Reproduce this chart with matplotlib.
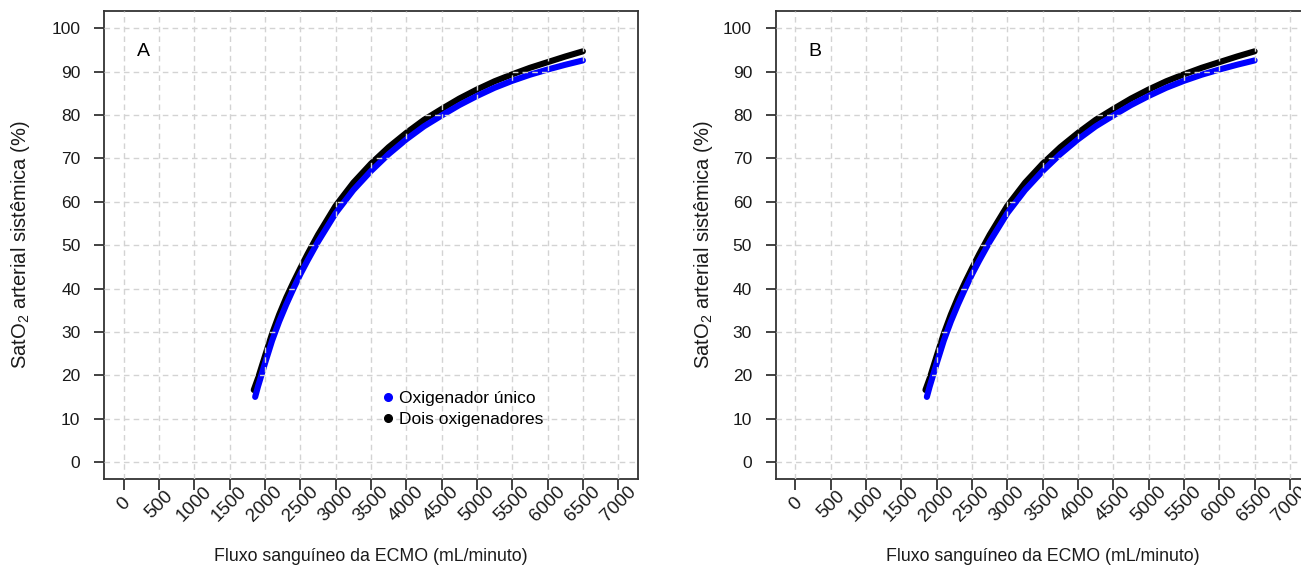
import matplotlib
matplotlib.use("Agg")
import matplotlib.pyplot as plt
from matplotlib.lines import Line2D

# ---------------- data ----------------
flow_single = [1860, 1900, 2000, 2100, 2200, 2300, 2400, 2500, 2600, 2750, 3000, 3250,
               3500, 3750, 4000, 4250, 4500, 4750, 5000, 5250, 5500, 5750, 6000, 6250, 6500]
sat_single = [15.0, 17.4, 22.8, 28.0, 32.4, 36.3, 39.9, 43.3, 46.4, 50.8, 57.4, 62.7,
              67.1, 71.0, 74.4, 77.4, 79.9, 82.3, 84.4, 86.3, 87.9, 89.3, 90.5, 91.6, 92.6]

flow_double = [1840, 1900, 2000, 2100, 2200, 2300, 2400, 2500, 2600, 2750, 3000, 3250,
               3500, 3750, 4000, 4250, 4500, 4750, 5000, 5250, 5500, 5750, 6000, 6250, 6500]
sat_double = [16.6, 19.3, 24.5, 29.6, 34.0, 37.9, 41.4, 44.7, 47.9, 52.4, 59.1, 64.4,
              68.8, 72.6, 75.9, 78.9, 81.4, 83.8, 85.9, 87.8, 89.4, 90.9, 92.2, 93.5, 94.7]

x_ticks = list(range(0, 7001, 500))
y_ticks = list(range(0, 101, 10))
panel_labels = ["A", "B"]
legend_labels = ["Oxigenador único", "Dois oxigenadores"]
x_label = "Fluxo sanguíneo da ECMO (mL/minuto)"
y_label = "SatO$_2$ arterial sistêmica (%)"

# ---------------- style ----------------
plt.rcParams['font.family'] = ['Liberation Sans', 'DejaVu Sans']
plt.rcParams['mathtext.default'] = 'regular'

W, H = 1301, 567
fig = plt.figure(figsize=(W / 100, H / 100), dpi=100)

spine_col = '#333333'
grid_col = '#d3d3d3'
text_col = '#1a1a1a'

def px_axes(left, right, top, bottom):
    return [left / W, (H - bottom) / H, (right - left) / W, (bottom - top) / H]

axes_specs = [px_axes(104, 638, 11, 479.3), px_axes(775.7, 1309.7, 11, 479.3)]
ylabel_x = [-0.157, -0.136]

for i, spec in enumerate(axes_specs):
    ax = fig.add_axes(spec)
    ax.set_xlim(-280, 7280)
    ax.set_ylim(-4, 104)

    ax.plot(flow_double, sat_double, color='black', lw=4.4, solid_capstyle='round',
            solid_joinstyle='round', zorder=2)
    ax.plot(flow_single, sat_single, color='#0000ff', lw=4.4, solid_capstyle='round',
            solid_joinstyle='round', zorder=2.1)

    ax.set_xticks(x_ticks)
    ax.set_yticks(y_ticks)
    ax.set_xticklabels([str(v) for v in x_ticks], rotation=45, ha='center', va='center',
                       fontsize=13.5, color=text_col)
    ax.set_yticklabels([str(v) for v in y_ticks], fontsize=12.5, color=text_col)
    ax.tick_params(axis='x', length=8, width=1.3, color=spine_col, pad=10)
    ax.tick_params(axis='y', length=7, width=1.3, color=spine_col, pad=10)

    ax.set_axisbelow(False)
    ax.grid(True, color=grid_col, linestyle=(0, (4, 3)), linewidth=1.0, zorder=2.5)

    for s in ax.spines.values():
        s.set_color(spine_col)
        s.set_linewidth(1.3)

    ax.set_xlabel(x_label, fontsize=12.8, color=text_col, va='center')
    ax.xaxis.set_label_coords(0.5, -0.165)
    ax.set_ylabel(y_label, fontsize=14.5, color=text_col, va='center')
    ax.yaxis.set_label_coords(ylabel_x[i], 0.5)

    ax.text(273, 94.6, panel_labels[i], fontsize=14, color='black', ha='center', va='center')

    if i == 0:
        handles = [Line2D([], [], linestyle='none', marker='o', markersize=5.5,
                          color='#0000ff'),
                   Line2D([], [], linestyle='none', marker='o', markersize=5.5,
                          color='black')]
        ax.legend(handles, legend_labels, loc='center left', bbox_to_anchor=(0.5225, 0.150),
                  frameon=False, fontsize=12.5, handlelength=0.6, handletextpad=0.3,
                  borderpad=0, borderaxespad=0, labelspacing=0.3)

fig.savefig("out.png", dpi=100)
